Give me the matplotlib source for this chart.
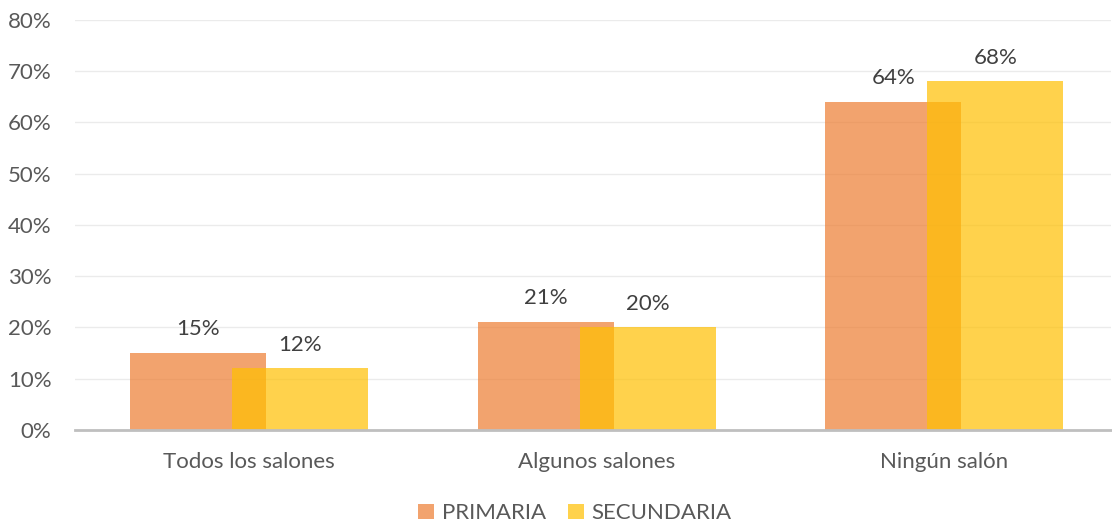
import matplotlib.pyplot as plt
import numpy as np

categorias = ["Todos los salones", "Algunos salones", "Ningún salón"]
primaria = [15, 21, 64]
secundaria = [12, 20, 68]
series = ["PRIMARIA", "SECUNDARIA"]

plt.rcParams['font.family'] = ['Lato', 'DejaVu Sans']

fig = plt.figure(figsize=(11.12, 5.25), dpi=100)
ax = fig.add_axes([0.0674, 0.181, 0.932, 0.781])

x = np.arange(len(categorias))
ancho = 0.391
desp = 0.1466

b1 = ax.bar(x - desp, primaria, ancho, color="#ED7D31", alpha=0.7, label=series[0], zorder=2)
b2 = ax.bar(x + desp, secundaria, ancho, color="#FFC000", alpha=0.7, label=series[1], zorder=3)

for barras, vals in [(b1, primaria), (b2, secundaria)]:
    for b, v in zip(barras, vals):
        ax.annotate(f"{v}%", (b.get_x() + b.get_width() / 2, v),
                    xytext=(0, 10), textcoords="offset points",
                    ha="center", va="bottom", fontsize=16, color="#404040")

ax.set_ylim(0, 80)
ax.set_xlim(-0.5, 2.48)
ax.set_yticks(np.arange(0, 81, 10))
ax.set_yticklabels([f"{t}%" for t in range(0, 81, 10)])
ax.set_xticks(x)
ax.set_xticklabels(categorias)
ax.tick_params(axis="both", length=0, labelsize=16, colors="#595959")
ax.tick_params(axis="x", pad=16)
ax.tick_params(axis="y", pad=17)

ax.grid(axis="y", color="#EBEBEB", linewidth=1, zorder=0)
ax.set_axisbelow(True)
for s in ["top", "right", "left"]:
    ax.spines[s].set_visible(False)
ax.spines["bottom"].set_color("#BFBFBF")
ax.spines["bottom"].set_linewidth(2)
ax.spines["bottom"].set_zorder(4)

fig.legend(loc="lower center", bbox_to_anchor=(0.517, -0.035), ncol=2, frameon=False,
           fontsize=16, labelcolor="#595959", handlelength=0.7, handleheight=0.7,
           columnspacing=1.0, handletextpad=0.35)

fig.savefig("out.png", dpi=100)
